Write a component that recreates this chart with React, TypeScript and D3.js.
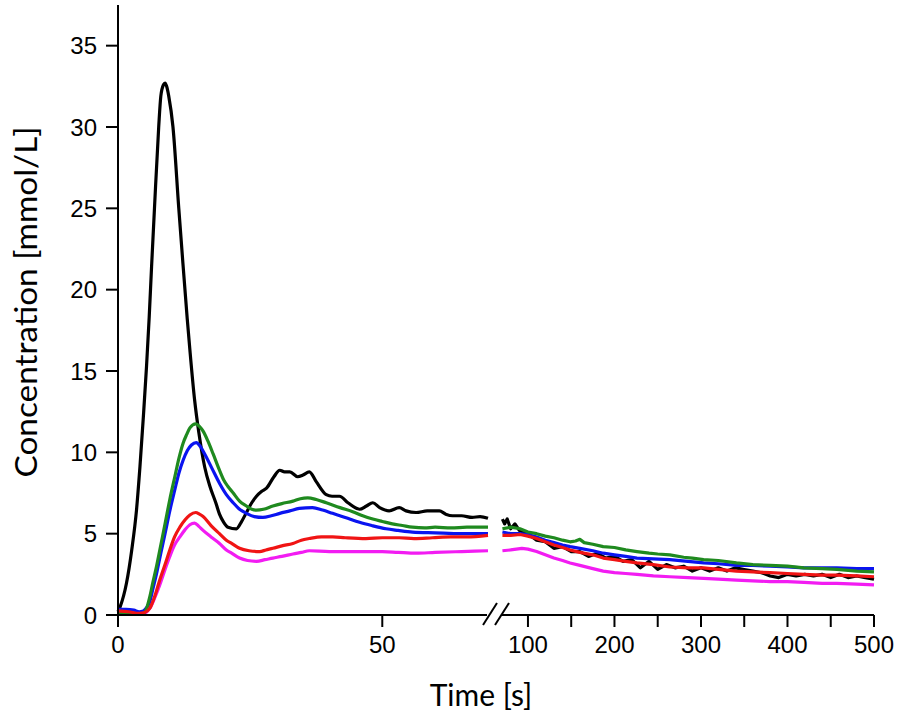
import React from 'react'
import * as d3 from 'd3'

type Pt = [number, number]

// time [s], concentration [mmol/L] — first part (0-70 s)
const blackEarly: Pt[] = [[0,0.2],[0.4,0.5],[1.6,1.95],[2.6,4.0],[3.5,6.45],[4.15,9.1],[4.8,12.2],[5.4,15.3],[5.9,18.3],[6.35,21.4],[6.9,25],[7.7,30],[8.1,31.9],[8.6,32.6],[8.9,32.7],[9.2,32.5],[9.6,31.9],[10.4,30],[11.5,25],[12.1,22.4],[13.1,18.2],[13.6,16.3],[14.5,13.2],[15.3,11.2],[16.4,9.1],[17.4,7.9],[18.5,6.9],[19.2,6.2],[20.0,5.7],[20.8,5.4],[22.4,5.3],[23.3,5.7],[24.3,6.3],[25.3,6.9],[26.2,7.3],[27.2,7.6],[28.1,7.8],[29.5,8.5],[30.6,8.9],[31.5,8.8],[32.5,8.8],[34.0,8.5],[35.0,8.6],[36.2,8.8],[37.5,8.2],[39.4,7.4],[40.5,7.3],[41.9,7.3],[43.5,6.9],[45.7,6.5],[47,6.7],[48.2,6.9],[49.5,6.6],[51.3,6.4],[53.2,6.6],[54.5,6.4],[56.4,6.3],[58.5,6.4],[60.8,6.4],[62,6.2],[63.3,6.1],[65,6.1],[67,6.0],[68.5,6.05],[70,5.95]]
const greenEarly: Pt[] = [[0,0.15],[2,0.1],[4,0.05],[4.8,0.1],[5.4,0.4],[6.0,1.1],[6.6,2.0],[7.3,3.0],[8.1,4.3],[8.9,5.6],[9.8,7.1],[10.75,8.5],[11.5,9.6],[12.3,10.55],[13.0,11.1],[13.6,11.5],[14.7,11.75],[15.4,11.6],[16.1,11.3],[17,10.7],[18,9.9],[19.2,8.9],[20,8.3],[20.8,7.9],[21.8,7.5],[23,7.0],[24.3,6.7],[25.3,6.5],[26.2,6.45],[27.5,6.5],[29.3,6.7],[31,6.85],[33.1,7.0],[34.5,7.15],[35.9,7.2],[37.5,7.1],[39.4,6.9],[42,6.6],[44.4,6.35],[46.3,6.1],[48.2,5.9],[50,5.75],[51.9,5.6],[53.8,5.5],[55.7,5.4],[58,5.35],[60,5.4],[63,5.35],[66,5.4],[70,5.4]]
const blueEarly: Pt[] = [[0,0.35],[1.5,0.35],[3,0.3],[4,0.2],[4.8,0.25],[5.4,0.45],[6.0,0.8],[6.6,1.6],[7.3,2.55],[8.1,3.8],[8.9,5.0],[9.8,6.4],[10.75,7.7],[11.5,8.7],[12.3,9.5],[13.1,10.1],[13.9,10.45],[14.8,10.6],[15.6,10.35],[16.4,9.9],[17.8,9.0],[19.2,8.1],[20.5,7.4],[21.8,6.9],[23,6.5],[24.3,6.25],[25.8,6.05],[27.4,6.0],[29,6.1],[30.6,6.25],[32.5,6.4],[34.3,6.55],[36.8,6.6],[38.7,6.45],[40.6,6.25],[43,6.0],[45.7,5.7],[48,5.5],[50.7,5.3],[53,5.2],[55.7,5.1],[60,5.05],[65,5.0],[70,5.0]]
const redEarly: Pt[] = [[0,0.25],[2,0.2],[4,0.1],[5,0.15],[6.0,0.4],[7.0,1.2],[7.9,2.15],[8.9,3.1],[9.8,4.0],[10.7,4.8],[11.7,5.4],[12.7,5.85],[13.6,6.15],[14.7,6.3],[15.4,6.2],[16.1,6.05],[17.6,5.5],[19.2,5.0],[20.5,4.6],[21.5,4.4],[23,4.1],[24.8,3.95],[26.8,3.9],[28,4.0],[29.3,4.1],[31,4.25],[33.1,4.4],[34.7,4.6],[36.2,4.7],[38.5,4.8],[40.6,4.8],[43,4.75],[46.9,4.7],[50,4.75],[53.2,4.75],[56,4.7],[59.5,4.75],[63,4.8],[66,4.8],[70,4.9]]
const magentaEarly: Pt[] = [[0,0.2],[2,0.15],[4,0.05],[5,0.1],[6.0,0.4],[7.0,1.1],[7.9,1.85],[8.9,2.8],[9.8,3.6],[10.7,4.3],[11.7,4.8],[12.7,5.25],[13.6,5.55],[14.5,5.65],[15.3,5.45],[16.1,5.2],[17.6,4.8],[19.2,4.4],[20.5,4.0],[21.5,3.8],[23,3.5],[24.5,3.35],[26.2,3.3],[27.8,3.4],[29.3,3.5],[31,3.6],[33.1,3.75],[34.7,3.85],[36.2,3.95],[40,3.9],[43,3.9],[46.9,3.9],[50,3.9],[53,3.85],[56.4,3.8],[60,3.85],[65,3.9],[70,3.95]]

// second part (70-500 s)
const blackLate: Pt[] = [[70.5,5.9],[73,5.6],[76,5.9],[80,5.3],[85,5.6],[90,5.2],[100,5.0],[110,4.6],[120,4.5],[130,4.1],[140,4.2],[150,3.9],[160,3.9],[170,3.6],[180,3.8],[190,3.5],[200,3.6],[210,3.3],[220,3.4],[230,2.9],[240,3.3],[250,2.8],[260,3.1],[270,2.9],[280,3.0],[290,2.7],[300,2.9],[310,2.7],[320,2.9],[330,2.7],[340,2.9],[350,2.8],[360,2.7],[370,2.6],[380,2.4],[390,2.3],[400,2.5],[410,2.4],[420,2.5],[430,2.4],[440,2.5],[450,2.3],[460,2.5],[470,2.3],[480,2.4],[490,2.3],[500,2.2]]
const greenLate: Pt[] = [[70.5,5.3],[80,5.4],[90.8,5.3],[100,5.1],[110,5.0],[120,4.85],[130,4.75],[140,4.6],[148.7,4.5],[155,4.55],[160,4.65],[165,4.45],[175,4.35],[187,4.2],[200,4.15],[213,4.0],[226,3.9],[240,3.8],[250,3.75],[264,3.7],[280,3.55],[290,3.5],[303,3.4],[320,3.35],[341,3.2],[360,3.1],[380,3.05],[400,3.0],[419,2.9],[440,2.85],[457,2.8],[480,2.7],[500,2.65]]
const blueLate: Pt[] = [[70.5,5.1],[80,5.0],[90,5.0],[100,4.95],[110,4.8],[120,4.6],[130,4.45],[140,4.3],[148.7,4.2],[160,4.1],[175,3.95],[187,3.8],[200,3.7],[213,3.6],[226,3.5],[245,3.45],[264,3.4],[285,3.3],[303,3.2],[320,3.15],[341,3.05],[360,3.05],[380,3.0],[400,2.95],[419,2.9],[440,2.9],[457,2.9],[480,2.85],[500,2.85]]
const redLate: Pt[] = [[70.5,4.9],[80,4.9],[91,4.95],[100,4.85],[110,4.7],[120,4.5],[130,4.3],[140,4.15],[148.7,4.0],[160,3.85],[175,3.7],[187,3.5],[200,3.4],[213,3.3],[226,3.2],[245,3.1],[264,2.95],[285,2.9],[303,2.9],[320,2.8],[341,2.7],[360,2.65],[380,2.6],[400,2.55],[419,2.5],[440,2.45],[457,2.45],[480,2.4],[500,2.35]]
const magentaLate: Pt[] = [[70.5,3.95],[80,4.0],[93,4.1],[100,4.05],[110,3.9],[120,3.7],[130,3.5],[140,3.35],[148.7,3.2],[160,3.05],[175,2.85],[187,2.7],[200,2.6],[213,2.55],[226,2.5],[245,2.4],[264,2.35],[285,2.3],[303,2.25],[320,2.2],[341,2.15],[360,2.1],[380,2.05],[400,2.05],[419,2.0],[440,1.95],[457,1.95],[480,1.9],[500,1.85]]

const yTicks = [0, 5, 10, 15, 20, 25, 30, 35]
const xTicksEarly = [0, 50]
const xTicksLate = [100, 150, 200, 250, 300, 350, 400, 450, 500]
const xLabelsLate = [100, 200, 300, 400, 500]

const series = [
  { name: 'black', color: '#000000', early: blackEarly, late: blackLate },
  { name: 'magenta', color: '#f21cf2', early: magentaEarly, late: magentaLate },
  { name: 'blue', color: '#0a14f0', early: blueEarly, late: blueLate },
  { name: 'green', color: '#1f8a1f', early: greenEarly, late: greenLate },
  { name: 'red', color: '#f01414', early: redEarly, late: redLate },
]

export default function App() {
  const width = 898
  const height = 721
  const x0 = 118
  const y0 = 615

  const y = d3.scaleLinear().domain([0, 37.5]).range([y0, 5])
  const xA = d3.scaleLinear().domain([0, 70]).range([x0, 488])
  const xB = d3.scaleLinear().domain([70, 500]).range([502, 874])

  const lineA = d3.line<Pt>().x(d => xA(d[0])).y(d => y(d[1])).curve(d3.curveMonotoneX)
  const lineB = d3.line<Pt>().x(d => xB(d[0])).y(d => y(d[1])).curve(d3.curveLinear)

  const tickFont = '"Liberation Sans", Arial, sans-serif'
  const titleFont = 'Lato, "Open Sans", sans-serif'

  return (
    <div style={{ position: 'absolute', left: 0, top: 0 }}>
      <svg width={width} height={height} style={{ display: 'block', background: '#fff' }}>
        {/* curves */}
        {series.map(s => (
          <g key={s.name} fill="none" stroke={s.color} strokeWidth={3.2} strokeLinejoin="round">
            <path d={lineA(s.early) || ''} />
            <path d={lineB(s.late) || ''} />
          </g>
        ))}

        {/* y axis */}
        <line x1={x0} x2={x0} y1={y0} y2={5} stroke="#000" strokeWidth={2} />
        {yTicks.map(t => (
          <g key={t}>
            <line x1={x0 - 12} x2={x0} y1={y(t)} y2={y(t)} stroke="#000" strokeWidth={2} />
            <text x={97} y={y(t)} dy="0.36em" textAnchor="end" fontFamily={tickFont} fontSize={24}>{t}</text>
          </g>
        ))}

        {/* x axis, broken */}
        <line x1={x0} x2={487} y1={y0} y2={y0} stroke="#000" strokeWidth={2} />
        <line x1={501} x2={xB(500)} y1={y0} y2={y0} stroke="#000" strokeWidth={2} />
        <line x1={483} x2={497} y1={625} y2={603} stroke="#000" strokeWidth={2} />
        <line x1={495} x2={509} y1={625} y2={603} stroke="#000" strokeWidth={2} />
        {xTicksEarly.map(t => (
          <g key={t}>
            <line x1={xA(t)} x2={xA(t)} y1={y0} y2={y0 + 12} stroke="#000" strokeWidth={2} />
            <text x={xA(t)} y={653} textAnchor="middle" fontFamily={tickFont} fontSize={24}>{t}</text>
          </g>
        ))}
        {xTicksLate.map(t => (
          <line key={t} x1={xB(t)} x2={xB(t)} y1={y0} y2={y0 + 12} stroke="#000" strokeWidth={2} />
        ))}
        {xLabelsLate.map(t => (
          <text key={t} x={xB(t)} y={653} textAnchor="middle" fontFamily={tickFont} fontSize={24}>{t}</text>
        ))}

        {/* titles */}
        <text x={481} y={706} textAnchor="middle" fontFamily={titleFont} fontSize={30}>Time [s]</text>
        <text transform={`translate(37,302) rotate(-90)`} textAnchor="middle" fontFamily={titleFont}
          fontSize={31} textLength={351} lengthAdjust="spacingAndGlyphs">Concentration [mmol/L]</text>
      </svg>
    </div>
  )
}
